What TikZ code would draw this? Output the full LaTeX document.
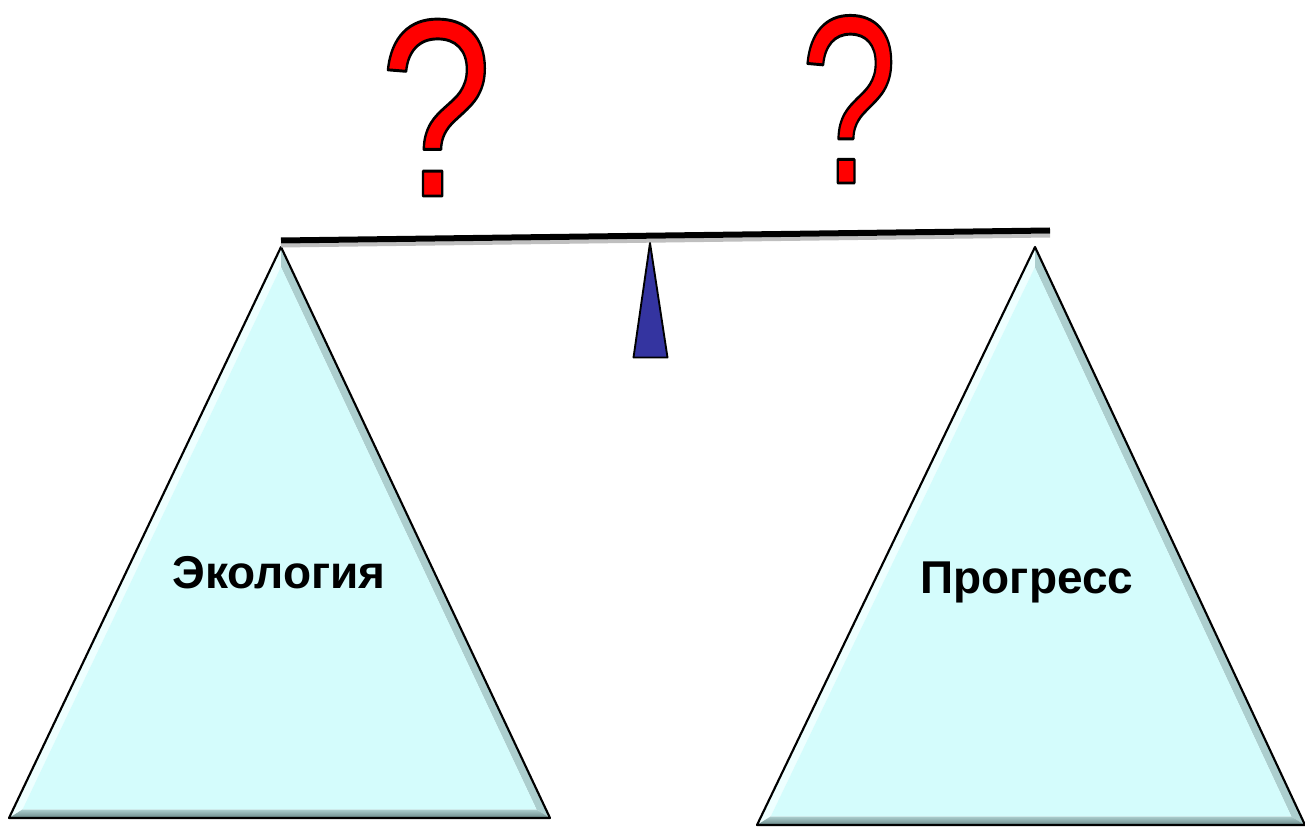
\documentclass[tikz,border=0pt]{standalone}
\usepackage{graphicx}
\usepackage{fontspec}
\setmainfont{Liberation Sans}
\usetikzlibrary{calc}

\definecolor{panfill}{RGB}{212,252,252}
\definecolor{panlight}{RGB}{238,255,255}
\definecolor{panside}{RGB}{172,206,206}
\definecolor{pandark}{RGB}{104,134,134}
\definecolor{pivotblue}{RGB}{52,52,160}
\definecolor{qred}{RGB}{255,0,0}

% red glyph, black outline (fill + stroke rendering mode)
\newcommand{\outlinedq}{\special{pdf:literal direct 0 0 0 RG 2.2 w 1 j 2 Tr}?\special{pdf:literal direct 0 Tr}}

\begin{document}
\begin{tikzpicture}[x=0.75pt, y=-0.75pt, line join=round,
	qmark/.style={text=qred, inner sep=0pt, anchor=base},
	panlabel/.style={font=\bfseries\fontsize{34.5}{40}\selectfont, inner sep=0pt, anchor=base},
	outline/.style={draw=black, line width=1.6pt}]
	\useasboundingbox (0,0) rectangle (1305,827);

	% the two pans: apex, base left, base right, base height
	\foreach \n/\ax/\ay/\bl/\br/\by in {eco/281/247/9/550/818, prog/1035/247/757/1305/825} {
		\coordinate (\n-a) at (\ax,\ay);
		\coordinate (\n-b) at (\bl,\by);
		\coordinate (\n-c) at (\br,\by);
		\coordinate (\n-i) at ($(\n-b)!0.5!(\n-c) + (0,-172)$);
		\coordinate (\n-ia) at ($(\n-i)!0.95!(\n-a)$);
		\coordinate (\n-ib) at ($(\n-i)!0.95!(\n-b)$);
		\coordinate (\n-ic) at ($(\n-i)!0.95!(\n-c)$);
		\fill[panside] (\n-a) -- (\n-c) -- (\n-ic) -- (\n-ia) -- cycle;
		\fill[panlight] (\n-a) -- (\n-b) -- (\n-ib) -- (\n-ia) -- cycle;
		\shade[top color=panside, bottom color=pandark] (\n-b) -- (\n-c) -- (\n-ic) -- (\n-ib) -- cycle;
		\fill[panfill] (\n-ia) -- (\n-ib) -- (\n-ic) -- cycle;
		\draw[outline] (\n-a) -- (\n-b) -- (\n-c) -- cycle;
	}

	% beam and pivot
	\coordinate (beamL) at (281,240.5);
	\coordinate (beamR) at (1050,230.5);
	\draw[black!25, line width=3pt] ($(beamL)+(0,5)$) -- ($(beamR)+(0,5)$);
	\draw[line width=4.5pt] (beamL) -- (beamR);
	\coordinate (pivot) at (650,243);
	\filldraw[fill=pivotblue, draw=black, line width=1.4pt] (pivot) -- (633.5,357.5) -- (667.5,357.5) -- cycle;

	% labels
	\node[panlabel] (eco) at (279,588) {Экология};
	\node[panlabel] (prog) at (1027,593) {Прогресс};

	% question marks
	\node[qmark, font=\fontsize{190}{190}\selectfont] (q1) at (436,196) {\scalebox{0.8}[1]{\outlinedq}};
	\node[qmark, font=\fontsize{180}{180}\selectfont] (q2) at (849,183) {\scalebox{0.73}[1]{\outlinedq}};
\end{tikzpicture}
\end{document}
